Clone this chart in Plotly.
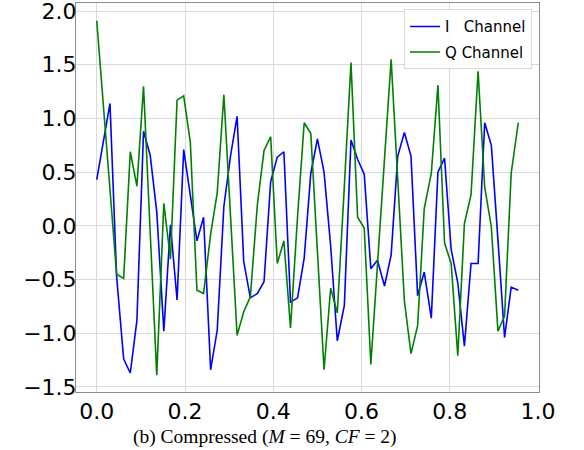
import plotly.graph_objects as go

# sample times (x axis)
t = [0.000, 0.015, 0.030, 0.045, 0.061, 0.076, 0.091, 0.106, 0.121, 0.136,
     0.152, 0.167, 0.182, 0.197, 0.212, 0.227, 0.242, 0.258, 0.273, 0.288,
     0.303, 0.318, 0.333, 0.348, 0.364, 0.379, 0.394, 0.409, 0.424, 0.439,
     0.455, 0.470, 0.485, 0.500, 0.515, 0.530, 0.545, 0.561, 0.576, 0.591,
     0.606, 0.621, 0.636, 0.652, 0.667, 0.682, 0.697, 0.712, 0.727, 0.742,
     0.758, 0.773, 0.788, 0.803, 0.818, 0.833, 0.848, 0.864, 0.879, 0.894,
     0.909, 0.924, 0.939, 0.955]

i_channel = [0.43, 0.78, 1.14, -0.47, -1.24, -1.37, -0.88, 0.88, 0.66, 0.13,
             -0.98, 0.01, -0.69, 0.71, 0.30, -0.14, 0.08, -1.34, -0.97, 0.18,
             0.65, 1.02, -0.33, -0.67, -0.63, -0.52, 0.41, 0.64, 0.69, -0.71,
             -0.67, -0.30, 0.49, 0.81, 0.50, -0.19, -1.07, -0.74, 0.80, 0.62,
             0.48, -0.40, -0.32, -0.56, -0.27, 0.65, 0.87, 0.65, -0.65, -0.43,
             -0.86, 0.50, 0.63, -0.22, -0.53, -1.12, -0.35, -0.35, 0.96, 0.75,
             -0.13, -1.04, -0.57, -0.60]

q_channel = [1.91, 1.13, 0.34, -0.45, -0.49, 0.69, 0.37, 1.30, -0.05, -1.39,
             0.21, -0.31, 1.17, 1.21, 0.78, -0.60, -0.63, -0.08, 0.31, 1.22,
             0.10, -1.02, -0.80, -0.66, 0.20, 0.70, 0.83, -0.35, -0.14, -0.95,
             0.09, 0.96, 0.86, -0.24, -1.34, -0.58, -0.81, 0.37, 1.52, 0.08,
             -0.02, -1.29, -0.35, 0.60, 1.55, 0.43, -0.70, -1.19, -0.93, 0.16,
             0.49, 1.31, -0.16, -0.35, -1.21, 0.02, 0.29, 1.44, 0.36, -0.01,
             -0.98, -0.84, 0.49, 0.96]

x_ticks = [0.0, 0.2, 0.4, 0.6, 0.8, 1.0]
y_ticks = [-1.5, -1.0, -0.5, 0.0, 0.5, 1.0, 1.5, 2.0]

fig = go.Figure()
fig.add_trace(go.Scatter(x=t, y=i_channel, mode="lines",
                         name="I\u00a0\u00a0\u00a0Channel", legendgroup="i",
                         line=dict(color="#0000ff", width=1.6)))
fig.add_trace(go.Scatter(x=t, y=q_channel, mode="lines",
                         name="Q Channel", legendgroup="q",
                         line=dict(color="#008000", width=1.6)))

axis_common = dict(showgrid=True, gridcolor="#d9d9d9", gridwidth=1,
                   zeroline=False, showline=True, linecolor="#8c8c8c",
                   linewidth=1, mirror=True, ticks="", automargin=False,
                   ticklabeloverflow="allow",
                   tickfont=dict(family="DejaVu Sans", size=22, color="black"))

fig.update_xaxes(range=[-0.047, 1.002], tickvals=x_ticks,
                 ticktext=[f"{v:.1f}" for v in x_ticks],
                 ticklabelstandoff=0, **axis_common)
fig.update_yaxes(range=[-1.547, 2.075], tickvals=y_ticks,
                 ticktext=[f"{v:.1f}".replace("-", "\u2212") for v in y_ticks],
                 ticklabelstandoff=-6, **axis_common)

fig.update_layout(
    width=584, height=450,
    margin=dict(l=76, r=45, t=3, b=58),
    plot_bgcolor="white", paper_bgcolor="white",
    showlegend=True,
    legend=dict(x=0.985, y=0.984, xanchor="right", yanchor="top",
                bgcolor="rgba(255,255,255,0.85)", bordercolor="#d8d8d8",
                borderwidth=1, itemwidth=30, traceorder="grouped",
                tracegroupgap=3,
                font=dict(family="DejaVu Sans", size=15, color="black")),
    annotations=[dict(text="(b) Compressed (<i>M</i> = 69, <i>CF</i> = 2)",
                      xref="paper", yref="paper", x=0.408, y=-0.116,
                      xanchor="center", yanchor="middle", showarrow=False,
                      font=dict(family="Liberation Serif", size=19.5, color="black"))],
)

fig.write_html("out.html", config={"displayModeBar": False},
               post_script="document.body.style.margin='0';document.body.style.overflow='hidden';")
